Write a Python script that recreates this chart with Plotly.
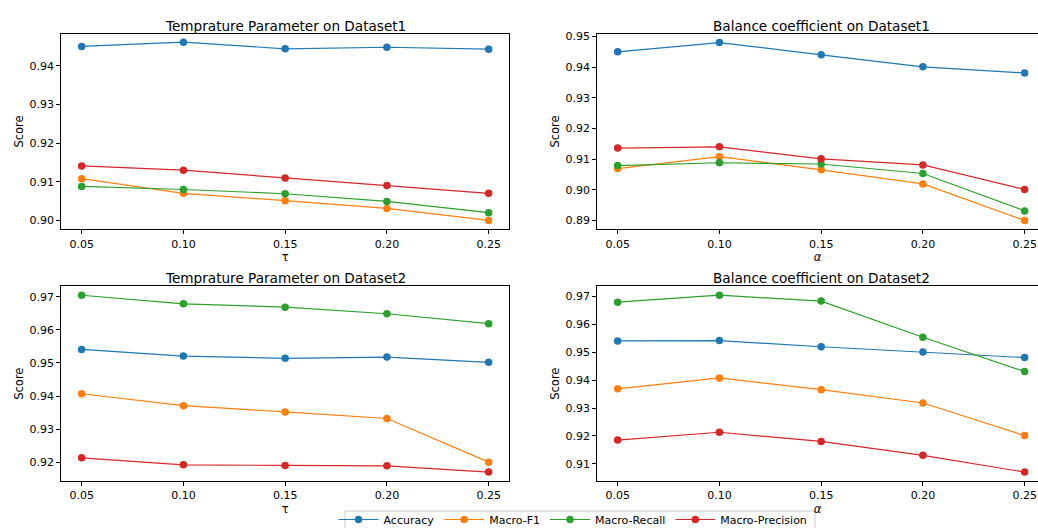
import plotly.graph_objects as go

x_vals = [0.05, 0.10, 0.15, 0.20, 0.25]
tick_labels = ["0.05", "0.10", "0.15", "0.20", "0.25"]
series_names = ["Accuracy", "Macro-F1", "Macro-Recall", "Macro-Precision"]
colors = ["#1f77b4", "#ff7f0e", "#2ca02c", "#d62728"]

# Temperature parameter on Dataset1
t1_accuracy = [0.9450, 0.9461, 0.9444, 0.9448, 0.9443]
t1_f1 = [0.9108, 0.9070, 0.9051, 0.9031, 0.9000]
t1_recall = [0.9088, 0.9080, 0.9069, 0.9049, 0.9020]
t1_precision = [0.9141, 0.9130, 0.9110, 0.9090, 0.9070]

# Balance coefficient on Dataset1
b1_accuracy = [0.9450, 0.9480, 0.9440, 0.9401, 0.9381]
b1_f1 = [0.9069, 0.9108, 0.9065, 0.9019, 0.8900]
b1_recall = [0.9079, 0.9088, 0.9084, 0.9053, 0.8931]
b1_precision = [0.9136, 0.9140, 0.9101, 0.9081, 0.9001]

# Temperature parameter on Dataset2
t2_accuracy = [0.9541, 0.9521, 0.9514, 0.9518, 0.9502]
t2_f1 = [0.9407, 0.9371, 0.9352, 0.9332, 0.9200]
t2_recall = [0.9705, 0.9679, 0.9669, 0.9649, 0.9619]
t2_precision = [0.9213, 0.9192, 0.9190, 0.9189, 0.9170]

# Balance coefficient on Dataset2
b2_accuracy = [0.9541, 0.9542, 0.9520, 0.9501, 0.9481]
b2_f1 = [0.9369, 0.9408, 0.9366, 0.9318, 0.9201]
b2_recall = [0.9680, 0.9705, 0.9684, 0.9554, 0.9431]
b2_precision = [0.9185, 0.9213, 0.9180, 0.9130, 0.9070]

panels = [
    ("Temprature Parameter on Dataset1", "τ", [t1_accuracy, t1_f1, t1_recall, t1_precision],
     [0.8977, 0.9483], [0.90, 0.91, 0.92, 0.93, 0.94]),
    ("Balance coefficient on Dataset1", "<i>α</i>", [b1_accuracy, b1_f1, b1_recall, b1_precision],
     [0.8871, 0.9509], [0.89, 0.90, 0.91, 0.92, 0.93, 0.94, 0.95]),
    ("Temprature Parameter on Dataset2", "τ", [t2_accuracy, t2_f1, t2_recall, t2_precision],
     [0.9143, 0.9732], [0.92, 0.93, 0.94, 0.95, 0.96, 0.97]),
    ("Balance coefficient on Dataset2", "<i>α</i>", [b2_accuracy, b2_f1, b2_recall, b2_precision],
     [0.9038, 0.9737], [0.91, 0.92, 0.93, 0.94, 0.95, 0.96, 0.97]),
]

W, H = 1038, 528
xdoms = [[61.3 / W, 509 / W], [597.3 / W, 1.0]]
ydoms = [[1 - 229.3 / H, 1 - 33.7 / H], [1 - 481 / H, 1 - 286.3 / H]]
xranges = [[0.04, 0.26], [0.04, 0.04 + (W - 597.3) / (447.7 / 0.22)]]

FONT = "DejaVu Sans"
fig = go.Figure()
annotations = []
layout = {}
for i, (title, xlabel, series, yr, yt) in enumerate(panels):
    row, col = divmod(i, 2)
    n = "" if i == 0 else str(i + 1)
    for j, (name, ys) in enumerate(zip(series_names, series)):
        fig.add_trace(go.Scatter(
            x=x_vals, y=ys, name=name, mode="lines+markers",
            line=dict(color=colors[j], width=1.2),
            marker=dict(color=colors[j], size=7.5),
            xaxis="x" + n, yaxis="y" + n,
            showlegend=(i == 0), legendgroup=name,
        ))
    mirror_y = col == 0
    layout["xaxis" + n] = dict(
        domain=xdoms[col], range=xranges[col], anchor="y" + n, automargin=False,
        tickvals=x_vals, ticktext=tick_labels, ticks="outside", ticklen=4,
        tickcolor="#000", showgrid=False, zeroline=False,
        showline=True, linecolor="#000", linewidth=1, mirror=True,
        tickfont=dict(family=FONT, size=11, color="#000"),
        title=dict(text=xlabel, font=dict(family=FONT, size=11.5, color="#000"), standoff=3),
    )
    layout["yaxis" + n] = dict(
        domain=ydoms[row], range=yr, anchor="x" + n, automargin=False,
        tickvals=yt, ticktext=["%.2f" % v for v in yt], ticks="outside", ticklen=4,
        tickcolor="#000", showgrid=False, zeroline=False,
        showline=True, linecolor="#000", linewidth=1, mirror=mirror_y,
        tickfont=dict(family=FONT, size=11, color="#000"),
        title=dict(text="Score", font=dict(family=FONT, size=11.5, color="#000"), standoff=3),
    )
    xd = xdoms[col]
    cx = (xd[0] + (509 - 61.3) / W / 2) if col == 1 else (xd[0] + xd[1]) / 2
    annotations.append(dict(
        text=title, xref="paper", yref="paper", x=cx, y=ydoms[row][1] - 2 / H,
        xanchor="center", yanchor="bottom", showarrow=False,
        font=dict(family=FONT, size=13.6, color="#000"),
    ))

fig.update_layout(
    width=W, height=H, margin=dict(l=0, r=0, t=0, b=0, autoexpand=False),
    paper_bgcolor="white", plot_bgcolor="white",
    annotations=annotations,
    shapes=[dict(
        type="rect", xref="paper", yref="paper",
        x0=345 / W, x1=815 / W, y0=-0.05, y1=1 - 511 / H,
        line=dict(color="#c8c8c8", width=1), fillcolor="white", layer="above",
    )],
    legend=dict(
        orientation="h", x=573 / W, xanchor="center", y=1 - 505 / H, yanchor="top",
        borderwidth=0, bgcolor="rgba(0,0,0,0)",
        font=dict(family=FONT, size=11, color="#000"), itemwidth=40,
    ),
    **layout,
)

fig.write_html("out.html")
